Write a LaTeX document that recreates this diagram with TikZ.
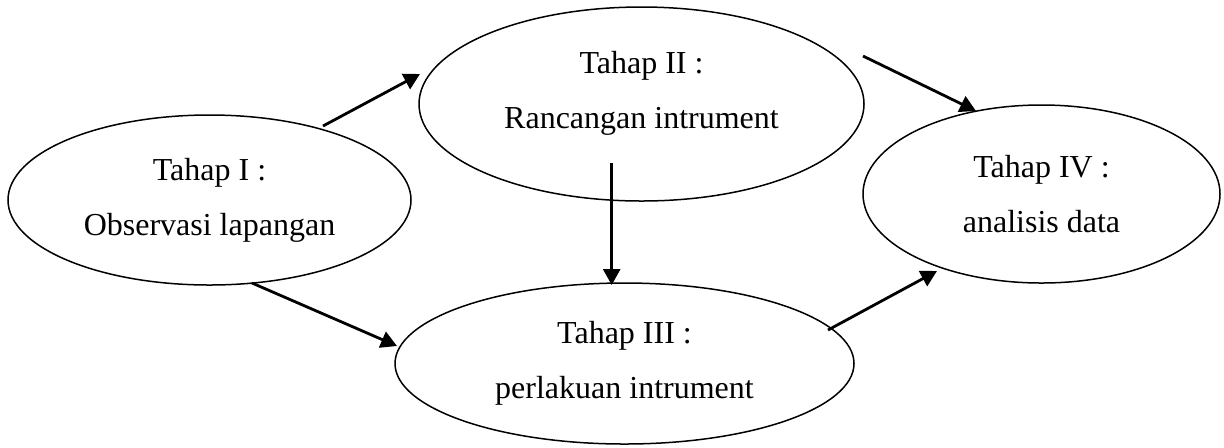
\documentclass[tikz,border=0pt]{standalone}
\usepackage{fontspec}
\setmainfont{Liberation Serif}
\usetikzlibrary{shapes.geometric, arrows.meta, positioning}

\begin{document}
\begin{tikzpicture}[
    x=0.5pt, y=-0.5pt,
    stage/.style={draw, ellipse, line width=0.75pt, inner sep=0pt, align=center, font=\fontsize{16}{27.5}\selectfont},
    arrow/.style={-{Triangle[length=8pt, width=8.5pt]}, line width=1.4pt}
]
    \useasboundingbox (0,0) rectangle (1224,447);

    \node[stage, minimum width=201.5pt, minimum height=85pt] (obs) at (209.5,200) {Tahap I :\\Observasi lapangan};
    \node[stage, minimum width=222.5pt, minimum height=97pt] (ranc) at (641.5,104) {Tahap II :\\Rancangan intrument\rule[-14.6pt]{0pt}{14.6pt}};
    \node[stage, minimum width=229.5pt, minimum height=80.5pt] (perl) at (624.5,363.5) {Tahap III :\\perlakuan intrument};
    \node[stage, minimum width=178.5pt, minimum height=89pt] (anal) at (1041.5,194) {Tahap IV :\\analisis data};

    % free ends of the arrows
    \coordinate (obs-out1) at (323,126);
    \coordinate (ranc-in) at (420,74);
    \coordinate (ranc-out1) at (863,56);
    \coordinate (anal-in1) at (976,111);
    \coordinate (ranc-out2) at (611.7,163);
    \coordinate (perl-in1) at (611.7,285);
    \coordinate (obs-out2) at (252,283);
    \coordinate (perl-in2) at (397,346);
    \coordinate (perl-out) at (828,330);
    \coordinate (anal-in2) at (937,271);

    \draw[arrow] (obs-out1) -- (ranc-in);
    \draw[arrow] (ranc-out1) -- (anal-in1);
    \draw[arrow] (ranc-out2) -- (perl-in1);
    \draw[arrow] (obs-out2) -- (perl-in2);
    \draw[arrow] (perl-out) -- (anal-in2);
\end{tikzpicture}
\end{document}
